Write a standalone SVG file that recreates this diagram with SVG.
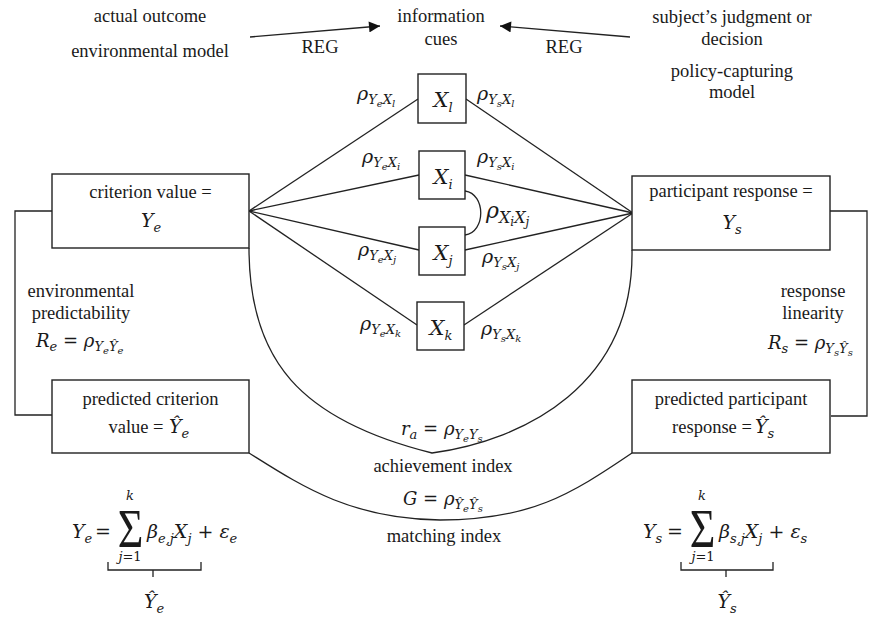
<svg xmlns="http://www.w3.org/2000/svg" width="869" height="618" viewBox="0 0 869 618">
<style>
.t{font-family:"Liberation Serif","Times New Roman",serif;font-size:18.5px;fill:#1a1a1a;text-anchor:middle}
.m{font-family:"DejaVu Serif",serif;font-style:italic;font-size:19px;fill:#1a1a1a}
.c{text-anchor:middle}
.s1{font-size:13px}
.s2{font-size:10px}
.n{font-style:normal}
.big{font-size:21px}
.lab{font-size:18px}
.sig{font-size:55px}
.sm{font-size:13px}
.box{fill:#fff;stroke:#222;stroke-width:1.4}
.ln{fill:none;stroke:#222;stroke-width:1.3}
</style>
<defs>
<marker id="ah" viewBox="0 0 10 10" refX="10" refY="5" markerWidth="14" markerHeight="11" markerUnits="userSpaceOnUse" orient="auto"><path d="M0,0 L10,5 L0,10 z" fill="#111"/></marker>
</defs>
<rect width="869" height="618" fill="#fff"/>

<g id="connectors">
<line class="ln" x1="250" y1="37" x2="380" y2="26" marker-end="url(#ah)"/>
<line class="ln" x1="630" y1="37" x2="500" y2="26" marker-end="url(#ah)"/>
<line class="ln" x1="249" y1="211" x2="418" y2="99"/>
<line class="ln" x1="466" y1="99" x2="633" y2="213"/>
<line class="ln" x1="249" y1="211" x2="419" y2="175"/>
<line class="ln" x1="465" y1="175" x2="633" y2="213"/>
<line class="ln" x1="249" y1="211" x2="419" y2="250"/>
<line class="ln" x1="465" y1="250" x2="633" y2="213"/>
<line class="ln" x1="249" y1="211" x2="417" y2="325"/>
<line class="ln" x1="464" y1="325" x2="633" y2="213"/>
<path class="ln" d="M465,191 C486,194 486,232 465,235"/>
<path class="ln" d="M52,211 H15 V415 H52"/>
<path class="ln" d="M830,211 H867 V416 H831"/>
<path class="ln" d="M249,248 C249,360 300,420 432,453 C525,440 634,385 632,250"/>
<path class="ln" d="M249,453 C300,485 350,519 440,520 C530,520 570,495 632,453"/>
</g>

<g id="top-labels">
<text class="t" x="150" y="22">actual outcome</text>
<text class="t" x="150" y="57">environmental model</text>
<text class="t" x="320" y="53">REG</text>
<text class="t" x="441" y="22">information</text>
<text class="t" x="441" y="45">cues</text>
<text class="t" x="564" y="53">REG</text>
<text class="t" x="732" y="23">subject’s judgment or</text>
<text class="t" x="732" y="45">decision</text>
<text class="t" x="732" y="77">policy-capturing</text>
<text class="t" x="732" y="98">model</text>
</g>

<g id="criterion-value">
<rect class="box" x="52" y="174" width="197" height="74"/>
<text class="t" x="150.5" y="198">criterion value =</text>
<text class="m c" x="151" y="227">Y<tspan class="s1" dy="5">e</tspan></text>
</g>

<g id="predicted-criterion">
<rect class="box" x="52" y="380" width="197" height="73"/>
<text class="t" x="150.5" y="405">predicted criterion</text>
<text class="t" x="136" y="433">value =</text>
<text class="m" x="169" y="433">Ŷ<tspan class="s1" dy="5">e</tspan></text>
</g>

<g id="participant-response">
<rect class="box" x="632" y="176" width="198" height="74"/>
<text class="t" x="731" y="197">participant response =</text>
<text class="m c" x="732" y="229">Y<tspan class="s1" dy="5">s</tspan></text>
</g>

<g id="predicted-participant">
<rect class="box" x="632" y="380" width="198" height="73"/>
<text class="t" x="731" y="405">predicted participant</text>
<text class="t" x="712" y="433">response =</text>
<text class="m" x="755" y="433">Ŷ<tspan class="s1" dy="5">s</tspan></text>
</g>

<g id="cue-xl">
<rect class="box" x="418" y="74" width="48" height="49"/>
<text class="m c big" x="443" y="107">X<tspan class="s1" dy="5">l</tspan></text>
</g>
<g id="cue-xi">
<rect class="box" x="419" y="151" width="46" height="48"/>
<text class="m c big" x="443" y="184">X<tspan class="s1" dy="5">i</tspan></text>
</g>
<g id="cue-xj">
<rect class="box" x="419" y="227" width="46" height="48"/>
<text class="m c big" x="443" y="260">X<tspan class="s1" dy="5">j</tspan></text>
</g>
<g id="cue-xk">
<rect class="box" x="417" y="302" width="47" height="48"/>
<text class="m c big" x="441" y="335">X<tspan class="s1" dy="5">k</tspan></text>
</g>

<g id="rho-labels">
<text class="m" x="357" y="100">ρ<tspan class="s1" dy="4">Y</tspan><tspan class="s2" dy="3">e</tspan><tspan class="s1" dy="-3">X</tspan><tspan class="s2" dy="3">l</tspan></text>
<text class="m" x="477" y="100">ρ<tspan class="s1" dy="4">Y</tspan><tspan class="s2" dy="3">s</tspan><tspan class="s1" dy="-3">X</tspan><tspan class="s2" dy="3">l</tspan></text>
<text class="m" x="362" y="163">ρ<tspan class="s1" dy="4">Y</tspan><tspan class="s2" dy="3">e</tspan><tspan class="s1" dy="-3">X</tspan><tspan class="s2" dy="3">i</tspan></text>
<text class="m" x="477" y="163">ρ<tspan class="s1" dy="4">Y</tspan><tspan class="s2" dy="3">s</tspan><tspan class="s1" dy="-3">X</tspan><tspan class="s2" dy="3">i</tspan></text>
<text class="m" x="358" y="256">ρ<tspan class="s1" dy="4">Y</tspan><tspan class="s2" dy="3">e</tspan><tspan class="s1" dy="-3">X</tspan><tspan class="s2" dy="3">j</tspan></text>
<text class="m" x="482" y="263">ρ<tspan class="s1" dy="4">Y</tspan><tspan class="s2" dy="3">s</tspan><tspan class="s1" dy="-3">X</tspan><tspan class="s2" dy="3">j</tspan></text>
<text class="m" x="360" y="330">ρ<tspan class="s1" dy="4">Y</tspan><tspan class="s2" dy="3">e</tspan><tspan class="s1" dy="-3">X</tspan><tspan class="s2" dy="3">k</tspan></text>
<text class="m" x="481" y="335">ρ<tspan class="s1" dy="4">Y</tspan><tspan class="s2" dy="3">s</tspan><tspan class="s1" dy="-3">X</tspan><tspan class="s2" dy="3">k</tspan></text>
<text class="m" x="486" y="218" style="font-size:22px">ρ<tspan style="font-size:16px" dy="5">X</tspan><tspan style="font-size:12px" dy="3">i</tspan><tspan style="font-size:16px" dy="-3">X</tspan><tspan style="font-size:12px" dy="3">j</tspan></text>
</g>

<g id="side-labels">
<text class="t" x="81" y="297">environmental</text>
<text class="t" x="81" y="319">predictability</text>
<text class="m lab" x="36" y="347">R<tspan class="s1" dy="4">e</tspan><tspan class="n" dy="-4"> = </tspan>ρ<tspan class="s1" dy="4">Y</tspan><tspan class="s2" dy="3">e</tspan><tspan class="s1" dy="-3">Ŷ</tspan><tspan class="s2" dy="3">e</tspan></text>
<text class="t" x="813" y="297">response</text>
<text class="t" x="813" y="319">linearity</text>
<text class="m lab" x="768" y="349">R<tspan class="s1" dy="4">s</tspan><tspan class="n" dy="-4"> = </tspan>ρ<tspan class="s1" dy="4">Y</tspan><tspan class="s2" dy="3">s</tspan><tspan class="s1" dy="-3">Ŷ</tspan><tspan class="s2" dy="3">s</tspan></text>
</g>

<g id="index-labels">
<text class="m lab" x="401" y="435">r<tspan class="s1" dy="4">a</tspan><tspan class="n" dy="-4"> = </tspan>ρ<tspan class="s1" dy="4">Y</tspan><tspan class="s2" dy="3">e</tspan><tspan class="s1" dy="-3">Y</tspan><tspan class="s2" dy="3">s</tspan></text>
<text class="t" x="443" y="472">achievement index</text>
<text class="m lab" x="403" y="505">G<tspan class="n"> = </tspan>ρ<tspan class="s1" dy="4">Ŷ</tspan><tspan class="s2" dy="3">e</tspan><tspan class="s1" dy="-3">Ŷ</tspan><tspan class="s2" dy="3">s</tspan></text>
<text class="t" x="444" y="542">matching index</text>
</g>

<g id="formula-e">
<text class="m" x="72" y="538">Y<tspan class="s1" dy="5">e</tspan></text>
<text class="m n c" x="103" y="538">=</text>
<text class="t sig" transform="translate(130.5,547) scale(0.8,1)">Σ</text>
<text class="m c sm" x="130" y="500">k</text>
<text class="m c sm" x="130" y="561">j<tspan class="n">=1</tspan></text>
<text class="m" x="147" y="538">β<tspan class="s1" dy="5">e,j</tspan><tspan dy="-5">X</tspan><tspan class="s1" dy="5">j</tspan><tspan class="n" dy="-5"> + </tspan>ε<tspan class="s1" dy="5">e</tspan></text>
<path class="ln" d="M108,562 V570 H201 V562 M153,570 V577"/>
<text class="m c" x="154" y="608">Ŷ<tspan class="s1" dy="5">e</tspan></text>
</g>

<g id="formula-s">
<text class="m" x="643" y="538">Y<tspan class="s1" dy="5">s</tspan></text>
<text class="m n c" x="675" y="538">=</text>
<text class="t sig" transform="translate(702.5,547) scale(0.8,1)">Σ</text>
<text class="m c sm" x="702" y="500">k</text>
<text class="m c sm" x="703" y="561">j<tspan class="n">=1</tspan></text>
<text class="m" x="719" y="538">β<tspan class="s1" dy="5">s,j</tspan><tspan dy="-5">X</tspan><tspan class="s1" dy="5">j</tspan><tspan class="n" dy="-5"> + </tspan>ε<tspan class="s1" dy="5">s</tspan></text>
<path class="ln" d="M681,562 V570 H773 V562 M726,570 V577"/>
<text class="m c" x="727" y="608">Ŷ<tspan class="s1" dy="5">s</tspan></text>
</g>
</svg>
